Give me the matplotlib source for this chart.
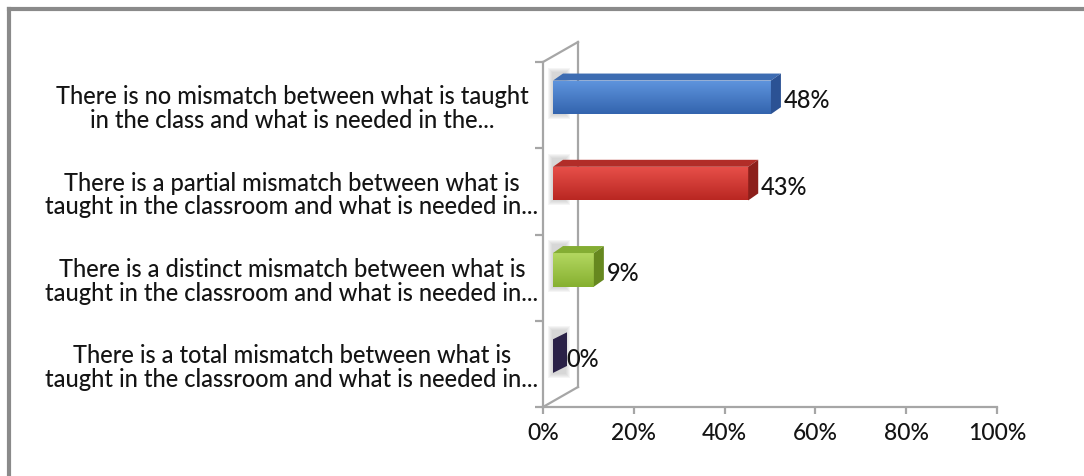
import numpy as np
import matplotlib.pyplot as plt
from matplotlib.patches import Polygon
from matplotlib.lines import Line2D
from matplotlib.colors import to_rgb

# chart data
categories = [
    'There is no mismatch between what is taught\nin the class and what is needed in the...',
    'There is a partial mismatch between what is\ntaught in the classroom and what is needed in...',
    'There is a distinct mismatch between what is\ntaught in the classroom and what is needed in...',
    'There is a total mismatch between what is\ntaught in the classroom and what is needed in...',
]
values = [48, 43, 9, 0]
value_labels = ['48%', '43%', '9%', '0%']
tick_values = [0, 20, 40, 60, 80, 100]
tick_labels = ['0%', '20%', '40%', '60%', '80%', '100%']

# colours: front gradient (top, bottom), top face, side face
front_colors = [('#5f95de', '#3364ae'), ('#e8504a', '#b92722'),
                ('#b3d760', '#86b030'), ('#4a3d75', '#2e2450')]
top_colors = ['#3d6cb2', '#b22d28', '#84ad33', '#3a2f60']
side_colors = ['#2b5294', '#8c1f1b', '#66881f', '#2a2147']

plt.rcParams['font.family'] = ['Lato', 'DejaVu Sans']
txt_col = '#141414'

W, H = 1084, 477
fig = plt.figure(figsize=(W / 100, H / 100), dpi=100)
ax = fig.add_axes([543 / W, (H - 408) / H, 454 / W, 345 / H])
ax.set_xlim(0, 100)
ax.set_ylim(4, 0)

# data units per pixel
px_x = 100 / 454
px_y = 4 / 345

# 3D geometry
front_off = 10 * px_x
bar_dx, bar_dy = 10 * px_x, 7 * px_y
wall_dx, wall_dy = 35 * px_x, 20 * px_y
grid_col = '#a6a6a6'

# back wall outline
for xs, ys in [([0, wall_dx], [0, -wall_dy]),
               ([0, wall_dx], [4, 4 - wall_dy]),
               ([wall_dx, wall_dx], [-wall_dy, 4 - wall_dy])]:
    ax.add_line(Line2D(xs, ys, color=grid_col, lw=1.6, clip_on=False, zorder=1))

ypos = np.arange(len(values)) + 0.41
bars = ax.barh(ypos, values, height=0.39, left=front_off,
               color=[c[0] for c in front_colors], zorder=4, lw=0)

for i, rect in enumerate(bars):
    x0, w = rect.get_x(), rect.get_width()
    yt, hh = rect.get_y(), rect.get_height()
    x1, yb = x0 + w, yt + hh
    # soft shadow on wall (layered for a blurred look)
    for k in range(5):
        g = 5 - k
        ax.add_patch(Polygon([(x0 - g * px_x, yt - (8 + g) * px_y),
                              (x0 + (12 + g) * px_x, yt - (8 + g) * px_y),
                              (x0 + (12 + g) * px_x, yb + g * px_y),
                              (x0 - g * px_x, yb + g * px_y)],
                             closed=True, fc='#b0b0b0', ec='none', alpha=0.12,
                             zorder=2, clip_on=False))
    # gradient on front face
    if w > 0:
        grad = np.linspace(0, 1, 64).reshape(-1, 1)
        c0 = np.array(to_rgb(front_colors[i][0]))
        c1 = np.array(to_rgb(front_colors[i][1]))
        img = c0 + (c1 - c0) * grad[:, :, None]
        im = ax.imshow(img, extent=[x0, x1, yb, yt], aspect='auto',
                       origin='upper', zorder=5)
        im.set_clip_path(rect)
    ax.add_patch(Polygon([(x0, yt), (x0 + bar_dx, yt - bar_dy),
                          (x1 + bar_dx, yt - bar_dy), (x1, yt)],
                         closed=True, fc=top_colors[i], ec='none', zorder=6, clip_on=False))
    sdx = bar_dx if w > 0 else bar_dx + 4 * px_x
    ax.add_patch(Polygon([(x1, yt), (x1 + sdx, yt - bar_dy),
                          (x1 + sdx, yb - bar_dy), (x1, yb)],
                         closed=True, fc=side_colors[i], ec='none', zorder=6, clip_on=False))
    ax.text(x1 + bar_dx + 3 * px_x, ypos[i] + 0.03, value_labels[i],
            ha='left', va='center', fontsize=17, color=txt_col, zorder=7,
            fontweight='medium')

ax.set_xlim(0, 100)
ax.set_ylim(4, 0)

# category labels
label_x = (292 - 543) * px_x
for i, cat in enumerate(categories):
    ax.text(label_x, i + 0.53, cat, ha='center', va='center', multialignment='center',
            fontsize=17, color=txt_col, linespacing=1.04, clip_on=False,
            fontweight='medium')

# axes styling
for s in ['top', 'right']:
    ax.spines[s].set_visible(False)
for s in ['left', 'bottom']:
    ax.spines[s].set_color(grid_col)
    ax.spines[s].set_linewidth(1.6)
ax.set_xticks(tick_values)
ax.set_xticklabels(tick_labels, fontsize=16.5, color=txt_col, fontweight='medium')
ax.tick_params(axis='x', length=5, width=1.6, color=grid_col, pad=6)
ax.set_yticks([0, 1, 2, 3, 4])
ax.set_yticklabels([])
ax.tick_params(axis='y', length=6, width=1.6, color=grid_col)
ax.set_facecolor('none')

# outer frame
fig.add_artist(Line2D([9 / W, 1], [1 - 10 / H, 1 - 10 / H], transform=fig.transFigure,
                      color='#8a8a8a', lw=3))
fig.add_artist(Line2D([9 / W, 9 / W], [0, 1 - 10 / H], transform=fig.transFigure,
                      color='#8a8a8a', lw=3))

fig.savefig('out.png', dpi=100)
